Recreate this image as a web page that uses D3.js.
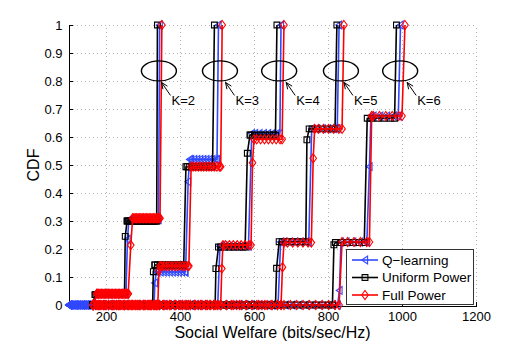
<!DOCTYPE html>
<html>
<head>
<meta charset="utf-8">
<script src="https://cdn.jsdelivr.net/npm/d3@7/dist/d3.min.js"></script>
<style>
  body { margin: 0; background: #fff; }
  svg text { font-family: "Liberation Sans", Arial, Helvetica, sans-serif; fill: #000; }
</style>
</head>
<body>
<svg id="chart" width="526" height="344"></svg>
<script>
'use strict';

/* Data: CDF step curves, one per K, as [welfare, cdf] breakpoints */

var xTicks = [200, 400, 600, 800, 1000, 1200]
var xTickLabels = ['200', '400', '600', '800', '1000', '1200']
var yTicks = [0, 0.1, 0.2, 0.3, 0.4, 0.5, 0.6, 0.7, 0.8, 0.9, 1]
var yTickLabels = ['0', '0.1', '0.2', '0.3', '0.4', '0.5', '0.6', '0.7', '0.8', '0.9', '1']

var seriesNames = ['Q\u2212learning', 'Uniform Power', 'Full Power']

var qLearning = [
  [[100, 0], [168, 0], [173, 0.04], [254, 0.04], [258, 0.235], [262, 0.305], [342, 0.305], [345, 1]],
  [[100, 0], [330, 0], [332, 0.079], [336, 0.118], [415, 0.118], [422, 0.44], [426, 0.52], [500, 0.52], [504, 1]],
  [[100, 0], [502, 0], [508, 0.21], [585, 0.21], [594, 0.613], [670, 0.613], [673, 1]],
  [[100, 0], [665, 0], [672, 0.225], [748, 0.225], [756, 0.63], [825, 0.63], [830, 1]],
  [[100, 0], [826, 0], [831, 0.052], [835, 0.225], [905, 0.225], [912, 0.494], [916, 0.675], [990, 0.675], [996, 1]]
]

var uniformPower = [
  [[165, 0], [170, 0.037], [250, 0.037], [252, 0.245], [257, 0.30], [337, 0.30], [339, 1]],
  [[165, 0], [326, 0], [328, 0.119], [332, 0.143], [410, 0.143], [416, 0.494], [488, 0.494], [493, 1]],
  [[165, 0], [495, 0], [497, 0.13], [504, 0.207], [576, 0.207], [582, 0.542], [589, 0.607], [658, 0.607], [662, 1]],
  [[165, 0], [658, 0], [661, 0.131], [668, 0.226], [740, 0.226], [743, 0.59], [749, 0.629], [819, 0.629], [824, 1]],
  [[165, 0], [812, 0], [816, 0.215], [820, 0.223], [898, 0.223], [906, 0.667], [980, 0.667], [985, 1]]
]

var fullPower = [
  [[165, 0], [175, 0.04], [260, 0.04], [267, 0.214], [272, 0.31], [346, 0.31], [351, 1]],
  [[165, 0], [340, 0], [343, 0.122], [346, 0.139], [424, 0.139], [430, 0.494], [510, 0.494], [514, 1]],
  [[165, 0], [510, 0], [513, 0.13], [516, 0.214], [592, 0.214], [596, 0.508], [600, 0.592], [676, 0.592], [681, 1]],
  [[165, 0], [673, 0], [677, 0.135], [681, 0.223], [755, 0.223], [760, 0.524], [764, 0.629], [838, 0.629], [843, 1]],
  [[165, 0], [830, 0], [838, 0.225], [912, 0.225], [918, 0.675], [1000, 0.675], [1008, 1]]
]

// annotations: ellipse centres and arrow tips, in data units
var kLabels = ['K=2', 'K=3', 'K=4', 'K=5', 'K=6']
var ellipseX = [343, 508, 668, 835, 995]
var ellipseY = 0.836
var arrowTipX = [350, 523, 687, 843, 1014]

/* Drawing */

var markersPerCurve = 50

var svg = d3.select('#chart')

var x = d3.scaleLinear().domain([100, 1200]).range([69, 476])
var y = d3.scaleLinear().domain([0, 1]).range([305, 25])

// dotted grid
var grid = svg.append('g').attr('class', 'grid')
grid.selectAll('line.v')
  .data(xTicks)
  .enter().append('line')
    .attr('x1', function(d){ return Math.round(x(d)) + 0.5 })
    .attr('x2', function(d){ return Math.round(x(d)) + 0.5 })
    .attr('y1', y(0))
    .attr('y2', y(1))
grid.selectAll('line.h')
  .data(yTicks.slice(1))
  .enter().append('line')
    .attr('x1', x(100))
    .attr('x2', x(1200))
    .attr('y1', function(d){ return Math.round(y(d)) + 0.5 })
    .attr('y2', function(d){ return Math.round(y(d)) + 0.5 })
grid.selectAll('line')
  .attr('stroke', '#b4b4b4')
  .attr('stroke-width', 1)
  .attr('stroke-dasharray', '1,3')

// axes
var xAxis = d3.axisBottom(x)
  .tickValues(xTicks)
  .tickFormat(function(d, i){ return xTickLabels[i] })
  .tickSizeInner(-4)
  .tickSizeOuter(0)
  .tickPadding(6)
var yAxis = d3.axisLeft(y)
  .tickValues(yTicks)
  .tickFormat(function(d, i){ return yTickLabels[i] })
  .tickSizeInner(-4)
  .tickSizeOuter(0)
  .tickPadding(6)

svg.append('g')
    .attr('transform', 'translate(0,305.5)')
    .call(xAxis)
svg.append('g')
    .attr('transform', 'translate(68.5,0)')
    .call(yAxis)

svg.selectAll('.domain, .tick line')
  .attr('stroke', '#000')
  .attr('shape-rendering', 'crispEdges')
svg.selectAll('.tick text')
  .style('font-size', '13px')

// markers
function markerPath(kind) {
  if (kind == 'square') return 'M-2.9,-2.9h5.8v5.8h-5.8Z'
  if (kind == 'diamond') return 'M0,-4.5L3.3,0L0,4.5L-3.3,0Z'
  return 'M-3.2,0L2.6,-3.9L2.6,3.9Z'
}

// marker positions: every breakpoint, plus regularly spaced marks along the flat runs
function markerPoints(pts) {
  var out = pts.slice()
  var x0 = pts[0][0], xN = pts[pts.length - 1][0]
  var step = (xN - x0) / (markersPerCurve - 1)
  for (var i = 0; i < markersPerCurve; i++) {
    var gx = x0 + i * step
    for (var j = 0; j < pts.length - 1; j++) {
      if (pts[j][1] === pts[j + 1][1] && gx >= pts[j][0] && gx <= pts[j + 1][0]) {
        out.push([gx, pts[j][1]])
        break
      }
    }
  }
  return out
}

var methods = [
  {name: seriesNames[0], curves: qLearning, color: '#3048ff', marker: 'triangle'},
  {name: seriesNames[1], curves: uniformPower, color: '#000000', marker: 'square'},
  {name: seriesNames[2], curves: fullPower, color: '#ff0000', marker: 'diamond'}
]

var line = d3.line()
  .x(function(d){ return x(d[0]) })
  .y(function(d){ return y(d[1]) })

methods.forEach(function(m){
  var g = svg.append('g').attr('class', 'series')
  m.curves.forEach(function(c){
    g.append('path')
      .datum(c)
      .attr('fill', 'none')
      .attr('stroke', m.color)
      .attr('stroke-width', 1.6)
      .attr('stroke-linejoin', 'round')
      .attr('d', line)
    g.selectAll(null)
      .data(markerPoints(c))
      .enter().append('path')
        .attr('d', markerPath(m.marker))
        .attr('transform', function(d){ return 'translate(' + x(d[0]) + ',' + y(d[1]) + ')' })
        .attr('fill', 'none')
        .attr('stroke', m.color)
        .attr('stroke-width', 1.1)
  })
})

// K annotations
var ann = svg.append('g').attr('class', 'annotations')
kLabels.forEach(function(label, i){
  var cx = x(ellipseX[i]), cy = y(ellipseY)
  ann.append('ellipse')
    .attr('cx', cx)
    .attr('cy', cy)
    .attr('rx', 17.5)
    .attr('ry', 10)
    .attr('fill', 'none')
    .attr('stroke', '#000')
    .attr('stroke-width', 1.4)

  var tx = x(arrowTipX[i]), ty = cy + 11.5
  var sx = tx + 9, sy = ty + 13
  var ang = Math.atan2(ty - sy, tx - sx)
  ann.append('line')
    .attr('x1', sx).attr('y1', sy)
    .attr('x2', tx).attr('y2', ty)
    .attr('stroke', '#000')
    .attr('stroke-width', 1)
  ;[-0.4, 0.4].forEach(function(da){
    ann.append('line')
      .attr('x1', tx).attr('y1', ty)
      .attr('x2', tx - 7 * Math.cos(ang + da))
      .attr('y2', ty - 7 * Math.sin(ang + da))
      .attr('stroke', '#000')
      .attr('stroke-width', 1)
  })
  ann.append('text')
    .attr('x', tx + 10)
    .attr('y', ty + 23)
    .style('font-size', '13px')
    .text(label)
})

// axis titles
svg.append('text')
  .attr('x', (x(100) + x(1200)) / 2)
  .attr('y', 338)
  .attr('text-anchor', 'middle')
  .style('font-size', '16px')
  .text('Social Welfare (bits/sec/Hz)')

svg.append('text')
  .attr('transform', 'translate(39,165) rotate(-90)')
  .attr('text-anchor', 'middle')
  .style('font-size', '16px')
  .text('CDF')

// legend
var legend = svg.append('g').attr('class', 'legend')
legend.append('rect')
  .attr('x', 346.5)
  .attr('y', 249.5)
  .attr('width', 127)
  .attr('height', 55)
  .attr('fill', '#fff')
  .attr('stroke', '#333')
  .attr('stroke-width', 1)

methods.forEach(function(m, i){
  var ly = 260 + i * 17.5
  legend.append('line')
    .attr('x1', 352).attr('x2', 378)
    .attr('y1', ly).attr('y2', ly)
    .attr('stroke', m.color)
    .attr('stroke-width', 1.6)
  legend.append('path')
    .attr('d', markerPath(m.marker))
    .attr('transform', 'translate(365,' + ly + ')')
    .attr('fill', 'none')
    .attr('stroke', m.color)
    .attr('stroke-width', 1.1)
  legend.append('text')
    .attr('x', 382)
    .attr('y', ly)
    .attr('dy', '0.35em')
    .style('font-size', '13.5px')
    .text(m.name)
})
</script>
</body>
</html>
